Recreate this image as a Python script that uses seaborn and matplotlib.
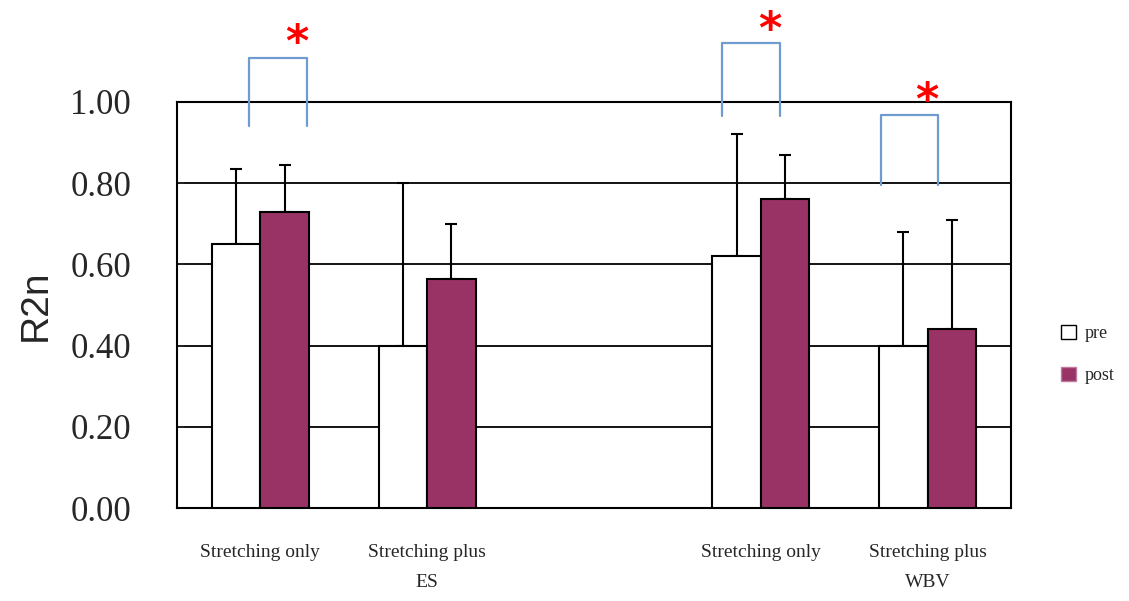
import pandas as pd
import matplotlib
matplotlib.use("Agg")
import matplotlib.pyplot as plt
import matplotlib.patches as mpatches
import seaborn as sns

# slots on the x axis (the third one is an empty spacer)
slots = ["c1", "c2", "blank", "c3", "c4"]
slot_labels = ["Stretching only", "Stretching plus\nES", "",
               "Stretching only", "Stretching plus\nWBV"]
bar_slots = ["c1", "c2", "c3", "c4"]

pre_mean = [0.65, 0.40, 0.62, 0.40]
pre_err = [0.185, 0.40, 0.30, 0.28]
post_mean = [0.73, 0.565, 0.76, 0.44]
post_err = [0.115, 0.135, 0.11, 0.27]

# significance brackets: left x, right x, bottom y, top y (data units), star x, star y
bracket_x0 = [-0.07, 2.77, 3.72]
bracket_x1 = [0.28, 3.115, 4.06]
bracket_y0 = [0.94, 0.965, 0.795]
bracket_y1 = [1.108, 1.145, 0.968]
star_x = [0.22, 3.055, 3.995]
star_y = [1.145, 1.175, 1.0]

pre_color = "#ffffff"
post_color = "#993366"
bracket_color = "#6f9bd1"

df = pd.DataFrame({
    "slot": bar_slots * 2,
    "phase": ["pre"] * 4 + ["post"] * 4,
    "value": pre_mean + post_mean,
})

sns.set_style("white")
fig = plt.figure(figsize=(11.29, 6.01), dpi=100)
ax = fig.add_axes([0.1568, 0.1547, 0.7387, 0.6756])

sns.barplot(data=df, x="slot", y="value", hue="phase", order=slots,
            hue_order=["pre", "post"], palette=[pre_color, post_color],
            width=0.58, gap=0, errorbar=None, edgecolor="black",
            linewidth=1.5, saturation=1, legend=False, ax=ax, zorder=3)

# one-sided (upper) error bars
for cont, errs in zip(ax.containers, [pre_err, post_err]):
    xs = [p.get_x() + p.get_width() / 2 for p in cont.patches]
    ys = [p.get_height() for p in cont.patches]
    ax.errorbar(xs, ys, yerr=[[0] * len(errs), errs], fmt="none",
                ecolor="black", elinewidth=1.5, capsize=4.5, capthick=1.5,
                zorder=2)

ax.set_ylim(0, 1.0)
ax.set_xlim(-0.5, 4.5)
ax.set_yticks([0, 0.2, 0.4, 0.6, 0.8, 1.0])
ax.set_yticklabels(["0.00", "0.20", "0.40", "0.60", "0.80", "1.00"],
                   fontfamily="Liberation Serif", fontsize=25)
ax.set_xticks(range(len(slots)))
ax.set_xticklabels(slot_labels, fontfamily="Liberation Serif", fontsize=14,
                   linespacing=2.0)
ax.set_xticks([0.5, 1.5, 2.5, 3.5], minor=True)
ax.tick_params(axis="x", which="major", length=0, pad=26)
ax.tick_params(axis="x", which="minor", direction="in", length=5, width=1.2)
ax.tick_params(axis="y", direction="in", length=5, width=1.2, pad=33,
               left=True)

ax.yaxis.grid(True, color="black", linewidth=1.3)
ax.set_axisbelow(True)
for sp in ax.spines.values():
    sp.set_visible(True)
    sp.set_color("black")
    sp.set_linewidth(1.5)

ax.set_xlabel("")
ax.set_ylabel("R2n", fontfamily="Liberation Sans", fontsize=28, labelpad=12)

# significance brackets and stars
for x0, x1, y0, y1, sx, sy in zip(bracket_x0, bracket_x1, bracket_y0,
                                  bracket_y1, star_x, star_y):
    ax.plot([x0, x0, x1, x1], [y0, y1, y1, y0], color=bracket_color,
            linewidth=1.6, clip_on=False, zorder=5)
    ax.text(sx, sy, "*", color="red", fontsize=32, fontweight="bold",
            ha="center", va="center", clip_on=False)

handles = [mpatches.Patch(facecolor=pre_color, edgecolor="black", label="pre"),
           mpatches.Patch(facecolor=post_color, edgecolor="#c07aa0", label="post")]
fig.legend(handles=handles, loc="center left", bbox_to_anchor=(0.932, 0.41),
           frameon=False, prop={"family": "Liberation Serif", "size": 13},
           handlelength=0.8, handleheight=0.8, handletextpad=0.5,
           labelspacing=1.4, borderpad=0)

fig.savefig("out.png", dpi=100)
